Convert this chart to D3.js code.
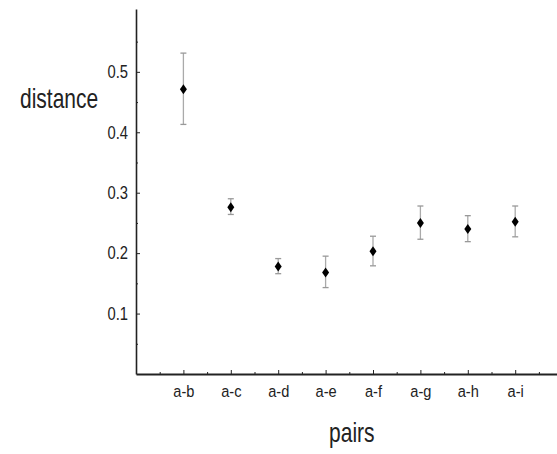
<!DOCTYPE html>
<html>
<head>
<meta charset="utf-8">
<script src="https://cdn.jsdelivr.net/npm/d3@7"></script>
<style>
  body { margin: 0; background: #fff; }
  svg { display: block; font-family: "Liberation Sans", Arial, Helvetica, sans-serif; }
  .axis path, .axis line { stroke: #222; }
  .axis text { fill: #222; }
</style>
</head>
<body>
<svg width="557" height="454"></svg>
<script>
// data
var pairs = ['a-b', 'a-c', 'a-d', 'a-e', 'a-f', 'a-g', 'a-h', 'a-i'];
var distance = [0.471, 0.276, 0.178, 0.168, 0.203, 0.250, 0.240, 0.252];
var errLow = [0.413, 0.264, 0.166, 0.143, 0.179, 0.223, 0.219, 0.227];
var errHigh = [0.531, 0.290, 0.191, 0.195, 0.228, 0.278, 0.262, 0.278];
var yTicks = [0.1, 0.2, 0.3, 0.4, 0.5];

var svg = d3.select('svg');

// layout
var axisX = 136, axisY = 374, axisTop = 9;
var step = 47.4;

var xScale = d3.scaleLinear().domain([0, 9]).range([axisX, axisX + 9 * step]);
var yScale = d3.scaleLinear().domain([0, 0.604]).range([axisY, axisTop]);

// the original text is horizontally squeezed
var yTextScale = 0.82, xTextScale = 0.86;

// y axis, ticks pointing into the plot
var yAxisG = svg.append('g')
    .attr('class', 'y axis')
    .attr('transform', 'translate(' + [axisX, 0] + ')')
    .call(d3.axisLeft(yScale).tickValues(yTicks).tickFormat(d3.format('.1f'))
        .tickSize(-4).tickSizeOuter(0));
yAxisG.select('.domain').attr('stroke-width', 1.6);
yAxisG.selectAll('text')
    .attr('font-size', 18)
    .attr('x', -8 / yTextScale)
    .attr('transform', 'scale(' + yTextScale + ',1)');

// minor y ticks
svg.append('g')
    .attr('class', 'y axis minor')
    .attr('transform', 'translate(' + [axisX, 0] + ')')
    .call(d3.axisLeft(yScale).tickValues([0.05, 0.15, 0.25, 0.35, 0.45, 0.55])
        .tickSize(-2).tickFormat(''))
    .call(function(g) { g.select('.domain').remove(); })
    .selectAll('line').attr('stroke', '#888');

// x axis
var xAxisG = svg.append('g')
    .attr('class', 'x axis')
    .attr('transform', 'translate(' + [0, axisY] + ')')
    .call(d3.axisBottom(xScale).tickValues(d3.range(1, pairs.length + 1))
        .tickFormat(function(i) { return pairs[i - 1]; })
        .tickSize(-4).tickSizeOuter(0).tickPadding(10.5));
xAxisG.select('.domain').attr('stroke-width', 1.8);
xAxisG.selectAll('text')
    .attr('font-size', 17)
    .attr('transform', 'scale(' + xTextScale + ',1)');

// minor x ticks
svg.append('g')
    .attr('class', 'x axis minor')
    .attr('transform', 'translate(' + [0, axisY] + ')')
    .call(d3.axisBottom(xScale).tickValues(d3.range(0.5, 9, 1))
        .tickSize(-2).tickFormat(''))
    .call(function(g) { g.select('.domain').remove(); })
    .selectAll('line').attr('stroke', '#888');

// error bars
var points = svg.append('g').selectAll('.pt')
    .data(pairs)
    .enter().append('g')
    .attr('class', 'pt');

points.append('line')
    .attr('x1', function(d, i) { return xScale(i + 1); })
    .attr('x2', function(d, i) { return xScale(i + 1); })
    .attr('y1', function(d, i) { return yScale(errLow[i]); })
    .attr('y2', function(d, i) { return yScale(errHigh[i]); })
    .attr('stroke', '#aaa')
    .attr('stroke-width', 1.3);

[errLow, errHigh].forEach(function(arr) {
    points.append('line')
        .attr('x1', function(d, i) { return xScale(i + 1) - 3; })
        .attr('x2', function(d, i) { return xScale(i + 1) + 3; })
        .attr('y1', function(d, i) { return yScale(arr[i]); })
        .attr('y2', function(d, i) { return yScale(arr[i]); })
        .attr('stroke', '#999')
        .attr('stroke-width', 1.3);
});

// diamond markers
points.append('path')
    .attr('d', 'M0,-5L3.5,0L0,5L-3.5,0Z')
    .attr('transform', function(d, i) {
        return 'translate(' + [xScale(i + 1), yScale(distance[i])] + ')';
    })
    .attr('fill', '#000');

// axis titles
svg.append('text')
    .attr('transform', 'translate(' + [20, 108] + ') scale(0.75,1)')
    .attr('font-size', 28)
    .attr('fill', '#222')
    .text('distance');

svg.append('text')
    .attr('transform', 'translate(' + [351.8, 442.3] + ') scale(0.75,1)')
    .attr('text-anchor', 'middle')
    .attr('font-size', 28)
    .attr('fill', '#222')
    .text('pairs');
</script>
</body>
</html>
